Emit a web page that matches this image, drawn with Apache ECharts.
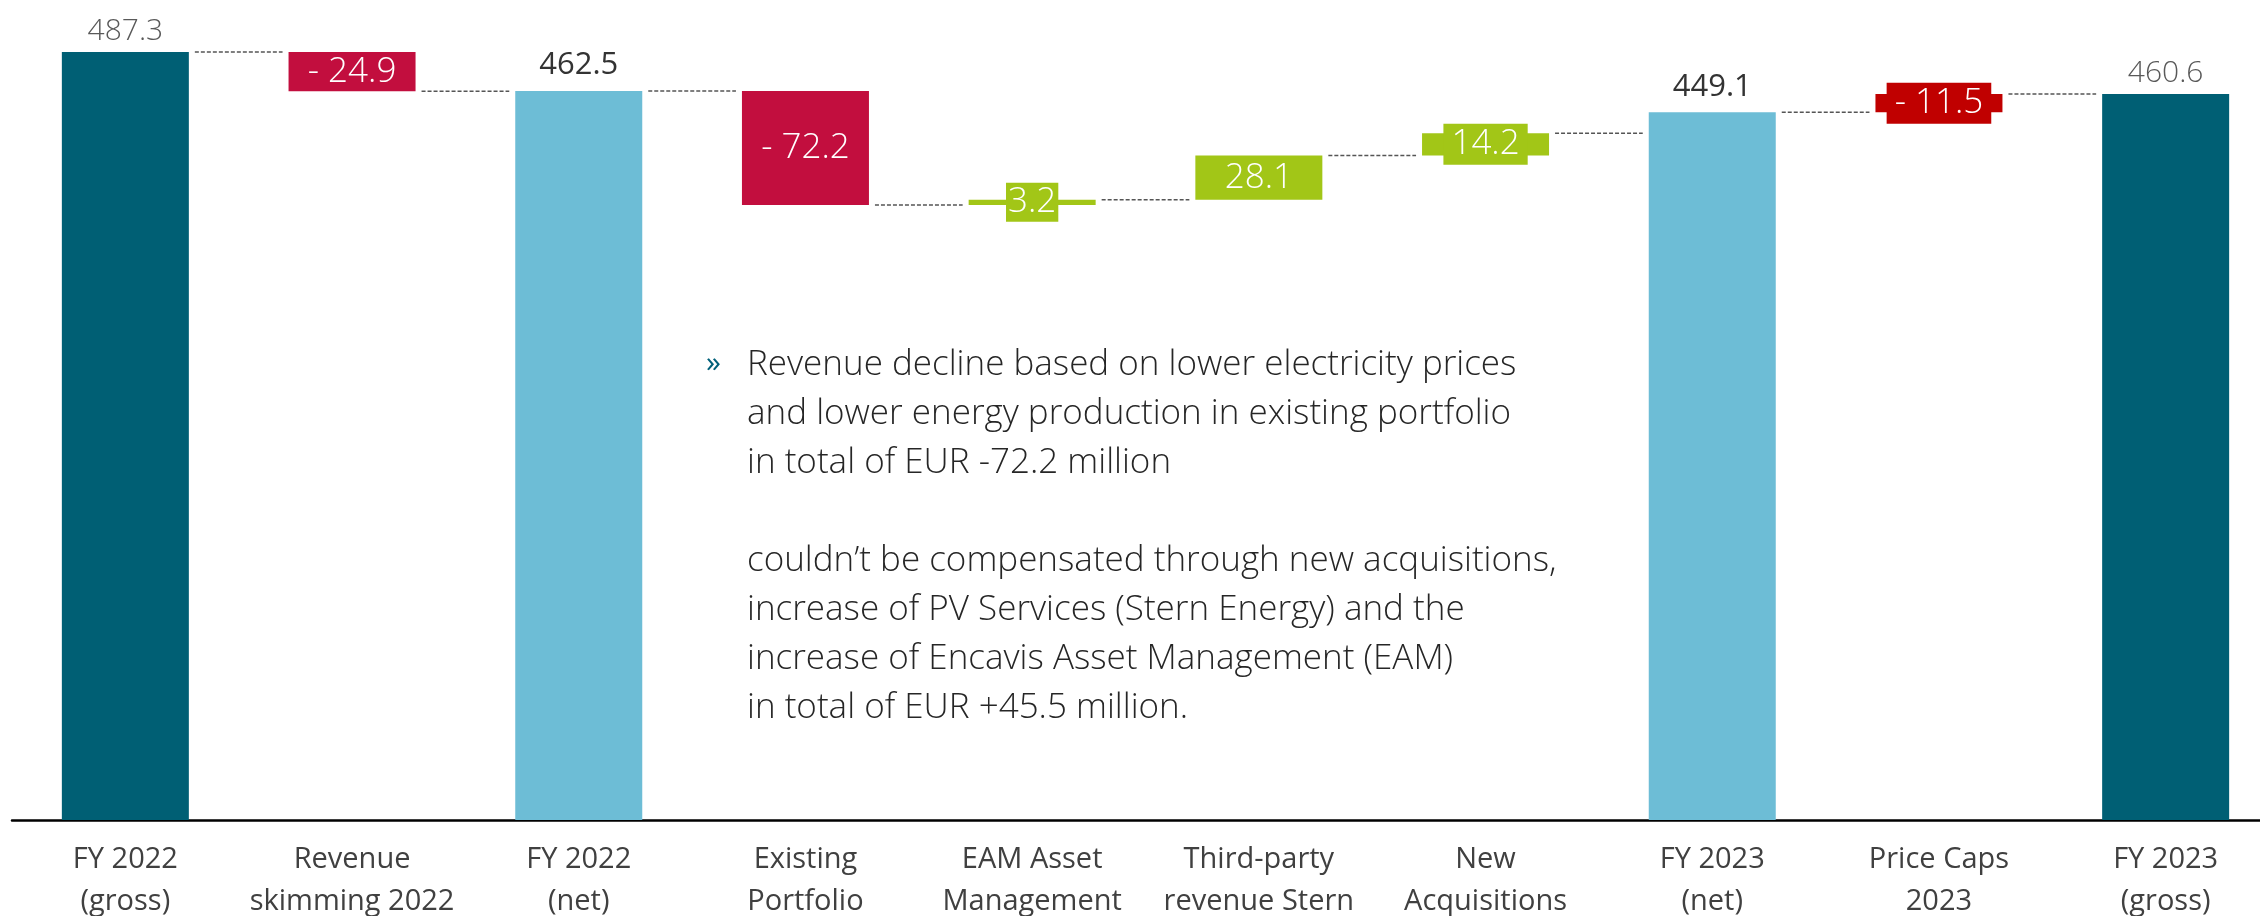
<!DOCTYPE html>
<html>
<head>
<meta charset="utf-8">
<script src="https://cdn.jsdelivr.net/npm/echarts@6/dist/echarts.min.js"></script>
<style>
  html, body { margin: 0; padding: 0; background: #fff; }
  #chart { width: 2260px; height: 916px; }
</style>
</head>
<body>
<div id="chart"></div>
<script>
// revenue bridge, EUR million
const categories = ['FY 2022\n(gross)', 'Revenue\nskimming 2022', 'FY 2022\n(net)', 'Existing\nPortfolio',
  'EAM Asset\nManagement', 'Third-party\nrevenue Stern', 'New\nAcquisitions', 'FY 2023\n(net)',
  'Price Caps\n2023', 'FY 2023\n(gross)']
// price caps are added back from net to gross, so that step goes up
const steps = [487.3, -24.9, 462.5, -72.2, 3.2, 28.1, 14.2, 449.1, 11.5, 460.6]
const isTotal = [true, false, true, false, false, false, false, true, false, true]
const valueLabels = ['487.3', '- 24.9', '462.5', '- 72.2', '3.2', '28.1', '14.2', '449.1', '- 11.5', '460.6']
const barKinds = ['gross', 'down', 'net', 'down', 'up', 'up', 'up', 'net', 'cap', 'gross']
const noteLines = [
  'Revenue decline based on lower electricity prices',
  'and lower energy production in existing portfolio',
  'in total of EUR -72.2 million',
  '',
  'couldn\u2019t be compensated through new acquisitions,',
  'increase of PV Services (Stern Energy) and the',
  'increase of Encavis Asset Management (EAM)',
  'in total of EUR +45.5 million.'
]

const colors = { gross: '#005f74', net: '#6dbdd6', down: '#c20e3e', up: '#a2c617', cap: '#c00000' }
const FONT = 'Open Sans'
const BAR_W = 127

// floating bars: invisible base + visible part
const base = []
const heights = []
const levels = []
let level = 0
steps.forEach(function (v, i) {
  if (isTotal[i]) {
    base.push(0)
    heights.push(v)
    level = v
  } else {
    const end = Math.round((level + v) * 10) / 10
    base.push(Math.min(level, end))
    heights.push(Math.abs(v))
    level = end
  }
  levels.push(level)
})

const barData = heights.map(function (h, i) {
  const c = colors[barKinds[i]]
  let label
  if (barKinds[i] === 'net') {
    label = { show: true, position: 'top', distance: 10, fontSize: 31, fontWeight: 400, color: '#333' }
  } else if (isTotal[i]) {
    label = { show: true, position: 'top', distance: 6, fontSize: 30, fontWeight: 300, color: '#595959' }
  } else {
    label = { show: true, position: 'inside', fontSize: 35, fontWeight: 300, color: '#fff' }
    if (h < 15) {
      label.backgroundColor = c
      label.padding = h < 5 ? [2, 2] : [3, 8]
    }
  }
  label.fontFamily = FONT
  label.formatter = valueLabels[i]
  return { value: h, itemStyle: { color: c }, label: label }
})

const connectors = levels.slice(0, -1).map(function (l, i) { return [i, l] })

const myChart = echarts.init(document.getElementById('chart'))
myChart.setOption({
  backgroundColor: '#fff',
  animation: false,
  grid: { left: 12, right: -19, top: 32, bottom: 96, outerBoundsMode: 'none', containLabel: false },
  xAxis: {
    type: 'category',
    data: categories,
    axisLine: { lineStyle: { color: '#000', width: 2.5 } },
    axisTick: { show: false },
    axisLabel: {
      interval: 0, margin: 19, fontSize: 29, lineHeight: 42,
      color: '#404040', fontFamily: FONT, fontWeight: 400
    }
  },
  yAxis: { type: 'value', min: 0, max: 500, show: false },
  series: [
    {
      type: 'bar', stack: 'w', barWidth: BAR_W, silent: true,
      itemStyle: { color: 'transparent' },
      data: base
    },
    {
      type: 'bar', stack: 'w', barWidth: BAR_W,
      data: barData
    },
    {
      type: 'custom',
      data: connectors,
      encode: { x: 0, y: 1 },
      z: 1,
      renderItem: function (params, api) {
        const i = api.value(0)
        const l = api.value(1)
        const p0 = api.coord([i, l])
        const p1 = api.coord([i + 1, l])
        return {
          type: 'line',
          shape: { x1: p0[0] + BAR_W / 2 + 6, y1: p0[1], x2: p1[0] - BAR_W / 2 - 6, y2: p1[1] },
          style: { stroke: '#555', lineWidth: 1.5, lineDash: [4, 2] }
        }
      }
    }
  ],
  graphic: [
    {
      type: 'text', left: 706, top: 348,
      style: { text: '\u00bb', fontSize: 30, fill: '#00607a', fontFamily: FONT }
    },
    {
      type: 'text', left: 747, top: 341,
      style: {
        text: noteLines.join('\n'), fontSize: 35, lineHeight: 49,
        fill: '#262626', fontFamily: FONT, fontWeight: 300
      }
    }
  ]
})
</script>
</body>
</html>
